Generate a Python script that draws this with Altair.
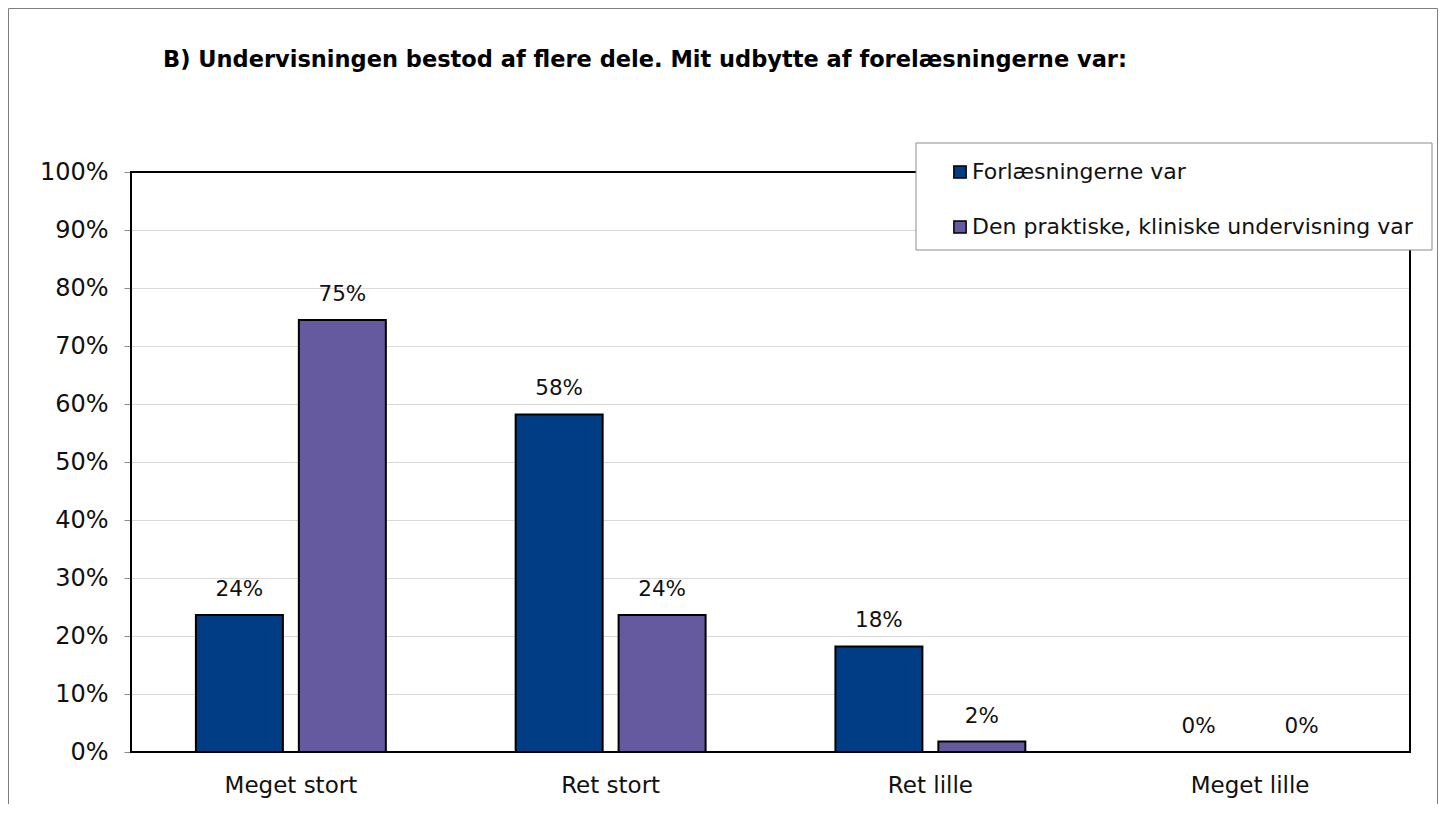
import altair as alt
import pandas as pd

categories = ["Meget stort", "Ret stort", "Ret lille", "Meget lille"]
series = ["Forlæsningerne var", "Den praktiske, kliniske undervisning var"]
lecture = [23.6, 58.2, 18.2, 0.0]
practical = [74.5, 23.6, 1.8, 0.0]
lecture_labels = ["24%", "58%", "18%", "0%"]
practical_labels = ["75%", "24%", "2%", "0%"]
title_text = ["B) Undervisningen bestod af flere dele. Mit udbytte af forelæsningerne var:"]
colors = ["#003D85", "#655A9F"]

rows = []
for i, c in enumerate(categories):
    rows.append({"cat": c, "series": series[0], "value": lecture[i], "label": lecture_labels[i]})
    rows.append({"cat": c, "series": series[1], "value": practical[i], "label": practical_labels[i]})
df = pd.DataFrame(rows)

FONT = "DejaVu Sans"
W, H = 1279, 580
PL, PT, PR, PB = 123, 164, 28, 52

one = pd.DataFrame({"a": [0]})

x_enc = alt.X("cat:N", sort=categories,
              scale=alt.Scale(paddingInner=0.406, paddingOuter=0.203),
              axis=alt.Axis(title=None, labelAngle=0, ticks=False, domain=False,
                            labelFontSize=23, labelFont=FONT, labelColor="#111111",
                            labelPadding=22, grid=False))
xo_enc = alt.XOffset("series:N", sort=series, scale=alt.Scale(paddingInner=0.155))
y_enc = alt.Y("value:Q", scale=alt.Scale(domain=[0, 100]),
              axis=alt.Axis(title=None, values=list(range(0, 101, 10)),
                            labelExpr="datum.value + '%'", grid=True,
                            gridColor="#d9d9d9", gridWidth=1, tickColor="#8c8c8c",
                            tickSize=7, domain=False, labelPadding=16,
                            labelFontSize=24, labelFont=FONT, labelColor="#111111"))

outer = alt.Chart(one).mark_rect(filled=False, stroke="#7f7f7f", strokeWidth=1).encode(
    x=alt.value(-PL + 0.5), x2=alt.value(W + PR - 0.5),
    y=alt.value(-PT + 0.5), y2=alt.value(H + PB + 20))

frame = alt.Chart(one).mark_rect(filled=False, stroke="#000000", strokeWidth=2).encode(
    x=alt.value(0), x2=alt.value(W), y=alt.value(0), y2=alt.value(H))

bars = alt.Chart(df).mark_bar(stroke="#000000", strokeWidth=2).encode(
    x=x_enc, xOffset=xo_enc, y=y_enc,
    color=alt.Color("series:N", sort=series,
                    scale=alt.Scale(domain=series, range=colors),
                    legend=alt.Legend(title=None, orient="none", legendX=818, legendY=-11,
                                      symbolType="square", symbolSize=150,
                                      symbolStrokeColor="#000000", symbolStrokeWidth=1.5,
                                      labelFontSize=22, labelFont=FONT, labelColor="#111111",
                                      rowPadding=33, labelOffset=1, labelLimit=0,
                                      direction="vertical")))

labels = alt.Chart(df).mark_text(baseline="bottom", dy=-14, fontSize=21.5, font=FONT,
                                 color="#111111").encode(
    x=alt.X("cat:N", sort=categories), xOffset=alt.XOffset("series:N", sort=series),
    y="value:Q", text="label:N")

legend_box = alt.Chart(one).mark_rect(fill="#ffffff", stroke="#8c8c8c", strokeWidth=1).encode(
    x=alt.value(785), x2=alt.value(1301), y=alt.value(-29), y2=alt.value(78))

title = alt.Chart(pd.DataFrame({"t": title_text})).mark_text(
    fontSize=22.5, fontWeight="bold", font=FONT, align="center", baseline="middle",
    color="#000000").encode(x=alt.value(514), y=alt.value(-112), text="t:N")

chart = alt.layer(outer, frame, bars, labels, legend_box, title).properties(
    width=W, height=H,
    autosize=alt.AutoSizeParams(type="none"),
    padding={"left": PL, "top": PT, "right": PR, "bottom": PB},
).configure_view(stroke=None).configure(background="#ffffff")

chart.save("out.html", embed_options={"renderer": "svg", "actions": False})
